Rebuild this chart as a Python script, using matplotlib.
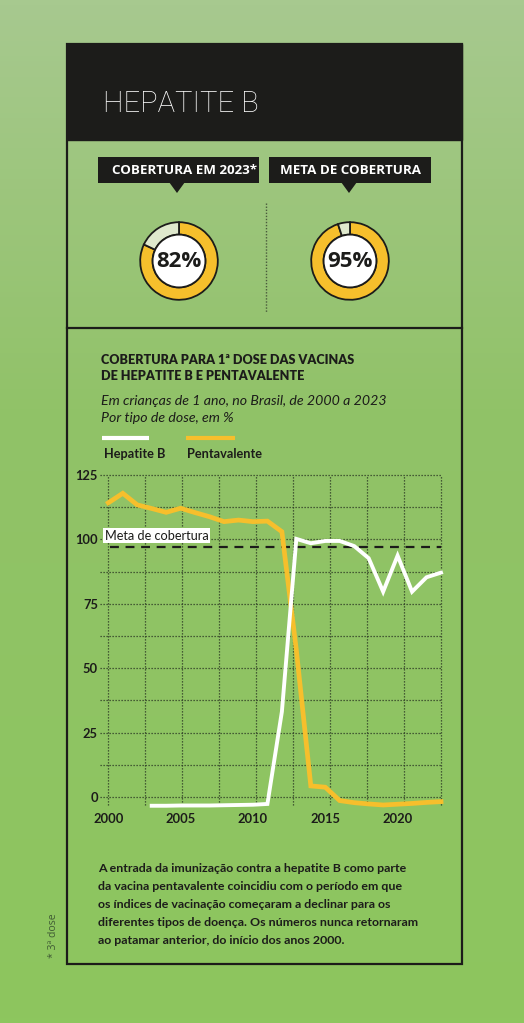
import numpy as np
import matplotlib
matplotlib.use("Agg")
import matplotlib.pyplot as plt
from matplotlib import font_manager
from matplotlib.patches import Rectangle, Polygon, Circle

# data
years = list(range(2000, 2024))
pentavalente = [114.2, 117.9, 113.4, 112.0, 110.5, 112.1, 110.4, 108.8, 106.9, 107.5,
                106.9, 107.1, 103.0, 57.0, 4.3, 3.8, -1.4, -2.2, -2.7, -3.1,
                -2.8, -2.5, -2.1, -1.8]
hep_b_years = list(range(2003, 2024))
hepatite_b = [-3.4, -3.4, -3.3, -3.3, -3.3, -3.2, -3.1, -3.0, -2.7, 33.1,
              100.2, 98.5, 99.4, 99.4, 97.4, 92.7, 79.7, 93.7, 79.7, 85.3, 87.1]
meta_line = 97
cobertura_2023 = 82
meta_cobertura = 95
y_ticks = [0, 25, 50, 75, 100, 125]
x_ticks = [2000, 2005, 2010, 2015, 2020]
box_labels = ["COBERTURA EM 2023*", "META DE COBERTURA"]
texto = ["A entrada da imunização contra a hepatite B como parte",
         "da vacina pentavalente coincidiu com o período em que",
         "os índices de vacinação começaram a declinar para os",
         "diferentes tipos de doença. Os números nunca retornaram",
         "ao patamar anterior, do início dos anos 2000."]


def pick(*names):
    for n in names:
        try:
            font_manager.findfont(font_manager.FontProperties(family=n), fallback_to_default=False)
            return n
        except Exception:
            pass
    return "DejaVu Sans"


F_TITLE = pick("Liberation Sans Narrow", "Roboto")
F_BOX = pick("Open Sans", "Roboto")
F_TXT = pick("Lato", "Open Sans")

YELLOW = "#f6bf2c"
DARK = "#1c1c1a"
W, H = 524, 1023

fig = plt.figure(figsize=(W / 100, H / 100), dpi=100)

# background in pixel coordinates
bg = fig.add_axes([0, 0, 1, 1])
bg.set_xlim(0, W)
bg.set_ylim(H, 0)
bg.axis("off")
c_top = np.array([167, 201, 143]) / 255
c_mid = np.array([145, 194, 104]) / 255
c_bot = np.array([141, 198, 94]) / 255
t = np.linspace(0, 1, 200)[:, None]
grad = np.where(t < 0.4, c_top + (c_mid - c_top) * (t / 0.4),
                c_mid + (c_bot - c_mid) * ((t - 0.4) / 0.6))
bg.imshow(grad[:, None, :], extent=[0, W, H, 0], aspect="auto", zorder=0)

# frame, header, separator
bg.add_patch(Rectangle((67, 44), 395, 96, facecolor=DARK, edgecolor=DARK, zorder=2))
bg.add_patch(Rectangle((67, 44), 395, 920, facecolor="none", edgecolor=DARK, lw=1.6, zorder=3))
bg.plot([67, 462], [328, 328], color=DARK, lw=1.6, zorder=3)
bg.text(103, 112, "HEPATITE B", color="white", fontsize=21, family=F_TITLE,
        fontweight="light", va="baseline", ha="left", zorder=4)

# label boxes with pointers
for (x0, x1, tip), lab in zip([(98, 259, 177), (269, 431, 349)], box_labels):
    bg.add_patch(Rectangle((x0, 157), x1 - x0, 26, facecolor=DARK, zorder=2))
    bg.add_patch(Polygon([(tip - 8, 182), (tip + 8, 182), (tip, 193)], facecolor=DARK, zorder=2))
    bg.text((x0 + x1) / 2 + 6 if tip == 177 else (x0 + x1) / 2, 170.5, lab, color="white",
            fontsize=9.6, fontweight="bold", family=F_BOX, ha="center", va="center", zorder=4)
bg.plot([266, 266], [203, 312], color="#4a5a3c", lw=1, ls=(0, (1, 1.2)), zorder=2)

# donuts
for cx, val in [(179, cobertura_2023), (350, meta_cobertura)]:
    r = 40
    dax = fig.add_axes([(cx - r) / W, (H - (261 + r)) / H, 2 * r / W, 2 * r / H])
    dax.pie([val, 100 - val], colors=[YELLOW, "#dfe9cd"], startangle=90, counterclock=False,
            radius=0.97, wedgeprops=dict(width=0.31, edgecolor=DARK, linewidth=1.3))
    dax.add_patch(Circle((0, 0), 0.66, facecolor="white", edgecolor=DARK, lw=1.3, zorder=5))
    dax.text(0, -0.02, f"{val}%", ha="center", va="center", fontsize=16, fontweight="bold",
             family=F_BOX, color=DARK, zorder=6)
    dax.set_xlim(-1, 1)
    dax.set_ylim(-1, 1)
    dax.axis("off")

# chart header texts
bg.text(101, 363.5, "COBERTURA PARA 1ª DOSE DAS VACINAS", fontsize=9.1, fontweight="heavy",
        family=F_TXT, color=DARK, va="baseline")
bg.text(101, 380, "DE HEPATITE B E PENTAVALENTE", fontsize=9.1, fontweight="heavy",
        family=F_TXT, color=DARK, va="baseline")
bg.text(101, 405, "Em crianças de 1 ano, no Brasil, de 2000 a 2023", fontsize=10.2,
        style="italic", family=F_TXT, color=DARK, va="baseline")
bg.text(101, 421.5, "Por tipo de dose, em %", fontsize=10.2, style="italic", family=F_TXT,
        color=DARK, va="baseline")
bg.plot([102, 149], [437.5, 437.5], color="white", lw=3, solid_capstyle="butt")
bg.plot([186, 235], [437.5, 437.5], color=YELLOW, lw=3, solid_capstyle="butt")
bg.text(104, 458, "Hepatite B", fontsize=9.2, fontweight="bold", family=F_TXT, color=DARK,
        va="baseline")
bg.text(187, 458, "Pentavalente", fontsize=9.2, fontweight="bold", family=F_TXT, color=DARK,
        va="baseline")

# line chart
ax = fig.add_axes([100 / W, (H - 810) / H, 345 / W, 340 / H])
ax.set_facecolor("none")
px_year = 14.47
px_unit = 2.576
ax.set_xlim(2000 - 8.3 / px_year, 2023 + 4 / px_year)
ax.set_ylim(-13 / px_unit, 125 + 5 / px_unit)
for s in ax.spines.values():
    s.set_visible(False)
grid_kw = dict(color="#2e3b25", lw=0.9, ls=(0, (1, 1.4)), zorder=1)
ax.hlines(np.arange(0, 126, 12.5), 2000 - 8.3 / px_year, 2023, **grid_kw)
ax.vlines(np.linspace(2000, 2023, 10), -8 / px_unit, 125, **grid_kw)
ax.axhline(meta_line, xmin=0.03, xmax=0.988, color=DARK, lw=1.6, ls=(0, (4, 3)), zorder=2)
ax.text(1999.75, meta_line + 4.4, "Meta de cobertura", fontsize=9.2, family=F_TXT, color=DARK,
        va="center", ha="left", zorder=3,
        bbox=dict(facecolor="white", edgecolor="none", pad=1.2))
ax.plot(years, pentavalente, color=YELLOW, lw=3.4, zorder=4, solid_joinstyle="miter")
ax.plot(hep_b_years, hepatite_b, color="white", lw=2.8, zorder=5, solid_joinstyle="miter")
ax.set_yticks(y_ticks)
ax.set_xticks(x_ticks)
ax.tick_params(length=0, labelsize=9.3, colors=DARK, pad=1.5)
ax.tick_params(axis="x", pad=2)
for lab in ax.get_xticklabels() + ax.get_yticklabels():
    lab.set_fontfamily(F_TXT)
    lab.set_fontweight("bold")

# bottom paragraph
for i, line in enumerate(texto):
    bg.text(98.5, 871.5 + 18.2 * i, line, fontsize=8.9, fontweight="bold", family=F_TXT,
            color=DARK, va="baseline")
bg.text(53, 958, "* 3ª dose", rotation=90, fontsize=7.5, family=F_BOX, color="#3f5a34",
        ha="center", va="bottom")

fig.savefig("out.png", dpi=100)
